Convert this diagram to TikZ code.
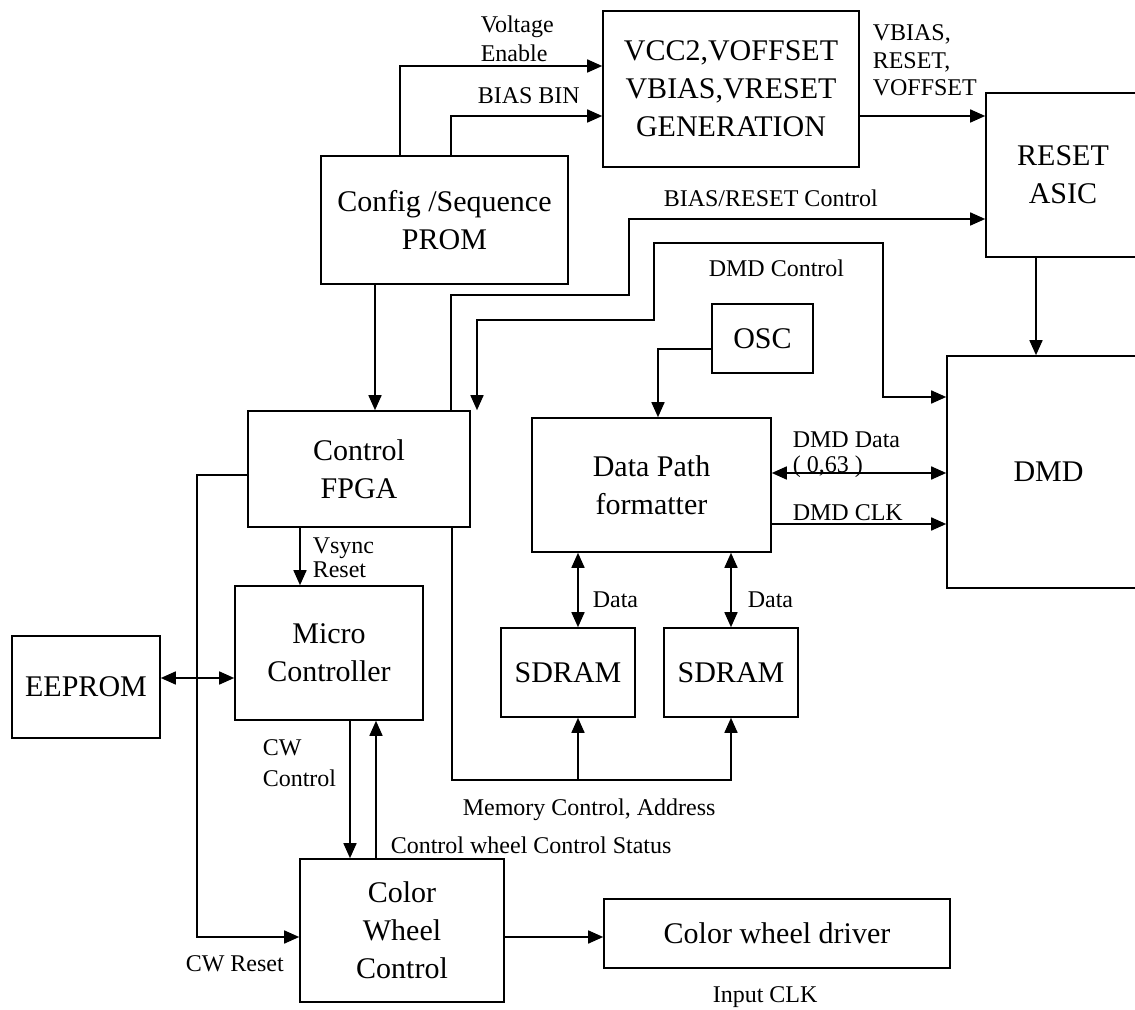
\documentclass[tikz,border=0pt]{standalone}
\usepackage{fontspec}
\setmainfont{Liberation Serif}
\usetikzlibrary{arrows.meta}

\begin{document}
\begin{tikzpicture}[x=0.5pt, y=-0.5pt, line width=0.8pt,
  >={Triangle[length=7.5pt,width=6.5pt]},
  blk/.style={draw, inner sep=0pt, align=center, font=\fontsize{15}{19}\selectfont},
  lbl/.style={inner sep=0pt, align=left, font=\fontsize{12}{14}\selectfont}]
  \useasboundingbox (0,0) rectangle (1135,1010);

  % Blocks
  \node[blk, minimum width=128pt, minimum height=78pt] (vgen) at (731,89) {VCC2,VOFFSET\\VBIAS,VRESET\\GENERATION};
  \node[blk, minimum width=123.5pt, minimum height=64pt] (prom) at (444.5,220) {Config /Sequence\\PROM};
  \node[blk, minimum width=77pt, minimum height=82pt] (asic) at (1063,175) {RESET\\ASIC};
  \node[blk, minimum width=101.5pt, minimum height=116pt] (dmd) at (1048.5,472) {DMD};
  \node[blk, minimum width=50.5pt, minimum height=34.5pt] (osc) at (762.5,338.5) {OSC};
  \node[blk, minimum width=119.5pt, minimum height=67pt] (dpf) at (651.5,485) {Data Path\\formatter};
  \node[blk, minimum width=111pt, minimum height=58pt] (fpga) at (359,469) {Control\\FPGA};
  \node[blk, minimum width=94pt, minimum height=67pt] (mcu) at (329,653) {Micro\\Controller};
  \node[blk, minimum width=74pt, minimum height=51pt] (eeprom) at (86,687) {EEPROM};
  \node[blk, minimum width=67pt, minimum height=44.5pt] (sdramA) at (568,672.5) {SDRAM};
  \node[blk, minimum width=67pt, minimum height=44.5pt] (sdramB) at (731,672.5) {SDRAM};
  \node[blk, minimum width=102pt, minimum height=71.5pt] (cwc) at (402,930.5) {Color\\Wheel\\Control};
  \node[blk, minimum width=173pt, minimum height=34.5pt] (cwd) at (777,933.5) {Color wheel driver};

  % Signal labels
  \node[lbl, anchor=north west, font=\fontsize{12}{14.5}\selectfont] (lVolt) at (480,15) {Voltage\\Enable};
  \node[lbl, anchor=base west] (lBin) at (477,104) {BIAS BIN};
  \node[lbl, anchor=north west, font=\fontsize{12}{13.75}\selectfont] (lVb) at (872,24) {VBIAS,\\RESET,\\VOFFSET};
  \node[lbl, anchor=base west] (lBr) at (663,207) {BIAS/RESET Control};
  \node[lbl, anchor=base west] (lDc) at (708,277) {DMD Control};
  \node[lbl, anchor=north west, font=\fontsize{12}{12.5}\selectfont] (lDd) at (792,431) {DMD Data\\( 0,63 )};
  \node[lbl, anchor=base west] (lClk) at (792,520) {DMD CLK};
  \node[lbl, anchor=base west] (lDa1) at (592,607) {Data};
  \node[lbl, anchor=base west] (lDa2) at (747,607) {Data};
  \node[lbl, anchor=base west] (lMem) at (462,815) {Memory Control, Address};
  \node[lbl, anchor=base west] (lSt) at (390,853) {Control wheel Control Status};
  \node[lbl, anchor=north west, font=\fontsize{12}{12}\selectfont] (lVs) at (312,537) {Vsync\\Reset};
  \node[lbl, anchor=north west, font=\fontsize{12}{15.5}\selectfont] (lCw) at (262,739) {CW\\Control};
  \node[lbl, anchor=base west] (lCwr) at (185,971) {CW Reset};
  \node[lbl, anchor=base west] (lIn) at (712,1002) {Input CLK};

  % Connections
  \draw[->] (400,0 |- prom.north) |- (vgen.west |- 0,66);
  \draw[->] (451,0 |- prom.north) |- (vgen.west |- 0,116);
  \draw[->] (vgen.east |- 0,116) -- (asic.west |- 0,116);
  \draw[->] (375,0 |- prom.south) -- (375,0 |- fpga.north);
  \draw[->] (451,0 |- fpga.north) |- (629,295) |- (asic.west |- 0,219);
  \draw[<->] (477,0 |- fpga.north) |- (654,320) |- (883,243) |- (dmd.west |- 0,397);
  \draw[->] (osc.west |- 0,349) -| (658,0 |- dpf.north);
  \draw[->] (1036,0 |- asic.south) -- (1036,0 |- dmd.north);
  \draw[<->] (dpf.east |- 0,473) -- (dmd.west |- 0,473);
  \draw[->] (dpf.east |- 0,524) -- (dmd.west |- 0,524);
  \draw[<->] (578,0 |- dpf.south) -- (578,0 |- sdramA.north);
  \draw[<->] (731,0 |- dpf.south) -- (sdramB.north);
  \draw[->] (452,0 |- fpga.south) |- (731,780) -- (sdramB.south);
  \draw[->] (578,780) -- (578,0 |- sdramA.south);
  \draw[->] (300,0 |- fpga.south) -- (300,0 |- mcu.north);
  \draw[<->] (eeprom.east |- 0,678) -- (mcu.west |- 0,678);
  \draw[->] (fpga.west |- 0,475) -| (197,937) -- (cwc.west |- 0,937);
  \draw[->] (350,0 |- mcu.south) -- (350,0 |- cwc.north);
  \draw[->] (376,0 |- cwc.north) -- (376,0 |- mcu.south);
  \draw[->] (cwc.east |- 0,937) -- (cwd.west |- 0,937);
\end{tikzpicture}
\end{document}
